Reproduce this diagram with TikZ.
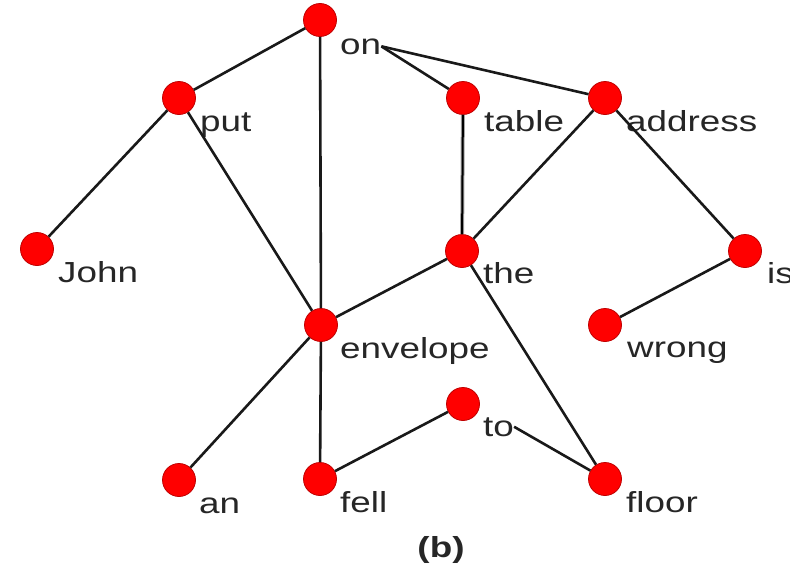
\documentclass[tikz,border=0pt]{standalone}
\usepackage{fontspec}
\setmainfont{Liberation Sans}[FakeStretch=1.27]
\tikzset{
  dot/.style={circle, fill=red, draw=red!75!black, line width=0.8pt, minimum size=33pt, inner sep=0pt},
  word/.style={anchor=base west, inner sep=0pt, text=black!85, font=\fontsize{29}{29}\selectfont},
  edge/.style={line width=2.6pt, black!90}
}
\begin{document}
\begin{tikzpicture}[x=1pt,y=-1pt]
    \useasboundingbox (0,0) rectangle (790,573);
    %
    \node[dot] (on) at (320,20) {};        \node[word] (on-t) at (340,54) {on};
    \node[dot] (put) at (179,98) {};       \node[word] (put-t) at (200,131) {put};
    \node[dot] (table) at (463,98) {};     \node[word] (table-t) at (484,131) {table};
    \node[dot] (address) at (605,98) {};   \node[word] (address-t) at (626,131) {address};
    %
    \node[dot] (John) at (37,249) {};      \node[word] (John-t) at (58,282) {John};
    \node[dot] (the) at (462,251) {};      \node[word] (the-t) at (483,283) {the};
    \node[dot] (is) at (745,251) {};       \node[word] (is-t) at (767,283) {is};
    %
    \node[dot] (envelope) at (321,325) {}; \node[word] (envelope-t) at (340,358) {envelope};
    \node[dot] (wrong) at (605,325) {};    \node[word] (wrong-t) at (627,357) {wrong};
    %
    \node[dot] (to) at (463,404) {};       \node[word] (to-t) at (483,436) {to};
    \node[dot] (an) at (179,480) {};       \node[word] (an-t) at (199,513) {an};
    \node[dot] (fell) at (320,479) {};     \node[word] (fell-t) at (340,512) {fell};
    \node[dot] (floor) at (605,479) {};    \node[word] (floor-t) at (626,512) {floor};
    %
    \node[font=\fontsize{29}{29}\selectfont\bfseries, text=black!85] (caption) at (441,550) {(b)};
    %
    \draw[edge] (on) -- (put);
    \draw[edge] (on) -- (envelope);
    \draw[edge] (on-t.east) -- (table);
    \draw[edge] (on-t.east) -- (address);
    \draw[edge] (put) -- (John);
    \draw[edge] (put) -- (envelope);
    \draw[line width=1pt, draw=black!35, double=black, double distance=2pt] (table) -- (the);
    \draw[edge] (address) -- (the);
    \draw[edge] (address) -- (is);
    \draw[edge] (is) -- (wrong);
    \draw[edge] (the) -- (envelope);
    \draw[edge] (the) -- (floor);
    \draw[edge] (envelope) -- (an);
    \draw[edge] (envelope) -- (fell);
    \draw[edge] (fell) -- (to);
    \draw[edge] (to-t.east) -- (floor);
\end{tikzpicture}
\end{document}
